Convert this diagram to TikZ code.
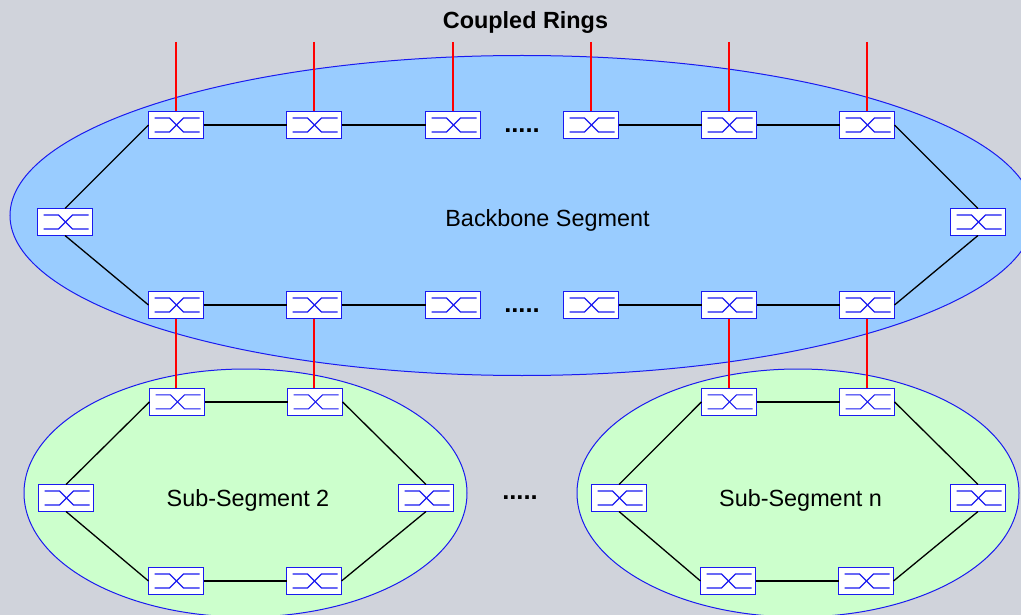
\documentclass[tikz,border=0pt]{standalone}
\usepackage{fontspec}
\setmainfont{Liberation Sans}
\definecolor{bgc}{HTML}{D0D3DB}
\definecolor{bbc}{HTML}{99CCFF}
\definecolor{sgc}{HTML}{CCFFCC}
\definecolor{lnb}{HTML}{1A1AF0}
\definecolor{cpr}{HTML}{FF0000}
\tikzset{
  sw/.style={draw=lnb,fill=white,line width=1.3pt,minimum width=55pt,minimum height=27pt,inner sep=0pt,outer sep=0pt},
  swl/.style={draw=lnb,line width=1.1pt},
  seg/.style={draw=lnb,line width=1pt},
  lk/.style={draw=black,line width=1.3pt},
  cp/.style={draw=cpr,line width=1.4pt},
  lab/.style={font=\fontsize{23.4}{25}\selectfont,inner sep=0pt},
  dots/.style={font=\fontsize{25.5}{26}\bfseries\selectfont,inner sep=0pt,anchor=base}
}
\newcommand{\swsym}[1]{%
  \draw[swl] ([shift={(-21.5pt,7pt)}]#1.center) -- ++(15pt,0) -- ++(14pt,-14pt) -- ++(16pt,0);
  \draw[swl] ([shift={(-21.5pt,-7pt)}]#1.center) -- ++(15pt,0) -- ++(14pt,14pt) -- ++(16pt,0);
}
\begin{document}
\begin{tikzpicture}[x=1pt,y=-1pt]
\useasboundingbox (0,0) rectangle (1021,615);
\fill[bgc] (0,0) rectangle (1021,615);
\begin{scope}
\clip (0,0) rectangle (1021,615);
\path[seg,fill=bbc] (522,215.5) ellipse [x radius=512,y radius=160];
\path[seg,fill=sgc] (245.5,493) ellipse [x radius=221.5,y radius=124];
\path[seg,fill=sgc] (798,493) ellipse [x radius=221,y radius=124];
\end{scope}
% backbone
\foreach \n/\x in {1/176,2/314,3/453,4/591,5/729,6/867}{
  \node[sw] (t\n) at (\x,125) {};
  \node[sw] (b\n) at (\x,305) {};
  \coordinate (f\n) at (\x,42);
}
\node[sw] (bl) at (65,222) {};
\node[sw] (br) at (978,222) {};
% sub-segment 2
\node[sw] (at1) at (177,401.9) {};
\node[sw] (at2) at (315,401.9) {};
\node[sw] (al) at (66,498) {};
\node[sw] (ar) at (426,498) {};
\node[sw] (ab1) at (176,581) {};
\node[sw] (ab2) at (314,581) {};
% sub-segment n
\node[sw] (nt1) at (729,401.9) {};
\node[sw] (nt2) at (867,401.9) {};
\node[sw] (nl) at (619,498) {};
\node[sw] (nr) at (978,498) {};
\node[sw] (nb1) at (728,581) {};
\node[sw] (nb2) at (866,581) {};
\foreach \s in {t1,t2,t3,t4,t5,t6,b1,b2,b3,b4,b5,b6,bl,br,at1,at2,al,ar,ab1,ab2,nt1,nt2,nl,nr,nb1,nb2}{\swsym{\s}}
% links
\draw[lk] (t1)--(t2); \draw[lk] (t2)--(t3); \draw[lk] (t4)--(t5); \draw[lk] (t5)--(t6);
\draw[lk] (b1)--(b2); \draw[lk] (b2)--(b3); \draw[lk] (b4)--(b5); \draw[lk] (b5)--(b6);
\draw[lk] (t1.west)--(bl.north); \draw[lk] (bl.south)--(b1.west);
\draw[lk] (t6.east)--(br.north); \draw[lk] (br.south)--(b6.east);
\draw[lk] (at1)--(at2); \draw[lk] (ab1)--(ab2);
\draw[lk] (at1.west)--(al.north); \draw[lk] (al.south)--(ab1.west);
\draw[lk] (at2.east)--(ar.north); \draw[lk] (ar.south)--(ab2.east);
\draw[lk] (nt1)--(nt2); \draw[lk] (nb1)--(nb2);
\draw[lk] (nt1.west)--(nl.north); \draw[lk] (nl.south)--(nb1.west);
\draw[lk] (nt2.east)--(nr.north); \draw[lk] (nr.south)--(nb2.east);
% couplers
\draw[cp] (f1)--(t1.north);
\draw[cp] (f2)--(t2.north);
\draw[cp] (f3)--(t3.north);
\draw[cp] (f4)--(t4.north);
\draw[cp] (f5)--(t5.north);
\draw[cp] (f6)--(t6.north);
\draw[cp] (b1.south)--(at1.north -| b1.south);
\draw[cp] (b2.south)--(at2.north -| b2.south);
\draw[cp] (b5.south)--(nt1.north);
\draw[cp] (b6.south)--(nt2.north -| b6.south);
% text
\node[font=\fontsize{23.4}{25}\bfseries\selectfont,inner sep=0pt] (title) at (525.5,22.5) {Coupled Rings};
\node[lab] (lbb) at (547.5,220) {Backbone Segment};
\node[lab] (ls2) at (248,500) {Sub-Segment 2};
\node[lab] (lsn) at (800.5,500) {Sub-Segment n};
\node[dots] (d1) at (522,132.5) {.....};
\node[dots] (d2) at (522,312.5) {.....};
\node[dots] (d3) at (520,499.5) {.....};
\end{tikzpicture}
\end{document}
